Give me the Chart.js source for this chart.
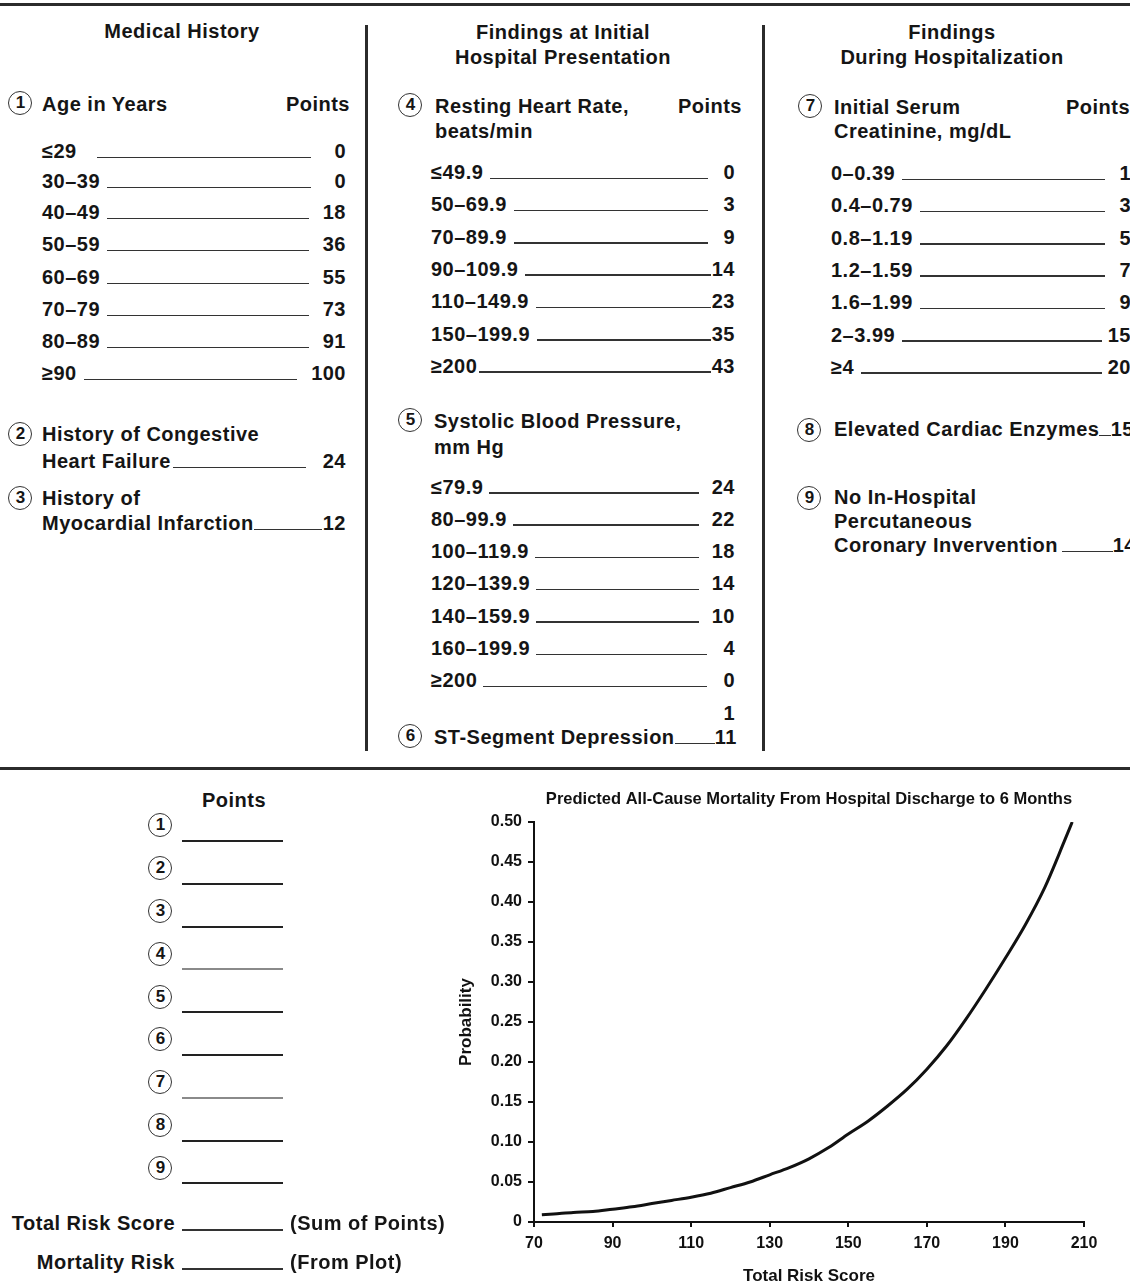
<!DOCTYPE html>
<html>
<head>
<meta charset="utf-8">
<title>Risk score nomogram</title>
<script src="https://cdn.jsdelivr.net/npm/chart.js@4.4.1/dist/chart.umd.min.js"></script>
<style>
html, body { margin: 0; padding: 0; background: #fff; }
body {
    width: 1130px; height: 1287px; position: relative; overflow: hidden;
    font-family: "Liberation Sans", Arial, Helvetica, sans-serif;
    font-weight: bold; font-size: 20px; letter-spacing: .5px; color: #151515;
}
.abs { position: absolute; white-space: nowrap; line-height: 24px; height: 24px; }
.rule { position: absolute; background: #2b2b2b; }
.circ {
    position: absolute; width: 22px; height: 22px; border: 1.6px solid #333;
    border-radius: 50%; font-size: 17px; line-height: 22px; text-align: center; letter-spacing: 0;
}
.row { position: absolute; display: flex; align-items: flex-end; height: 24px; line-height: 24px; white-space: nowrap; }
.row .ld { flex: 1; height: 1.5px; background: #333; margin-bottom: 5px; }
.row .v { text-align: right; }
#chartBox { position: absolute; left: 440px; top: 780px; width: 690px; height: 507px; letter-spacing: 0; }
</style>
</head>
<body>
<div id="chartBox"><canvas id="mortalityChart"></canvas></div>

<script>
// Mortality curve
const scoreValues   = [72, 75, 80, 85, 90, 95, 100, 105, 110, 115, 120, 125, 130, 135, 140, 145, 150, 155, 160, 165, 170, 175, 180, 185, 190, 195, 200, 205, 207];
const mortalityProb = [0.009, 0.010, 0.012, 0.013, 0.016, 0.019, 0.023, 0.027, 0.031, 0.036, 0.043, 0.050, 0.059, 0.068, 0.079, 0.093, 0.110, 0.126, 0.145, 0.166, 0.191, 0.220, 0.254, 0.291, 0.330, 0.371, 0.418, 0.476, 0.500];

// Point tables
const ageLabels   = ['≤29', '30–39', '40–49', '50–59', '60–69', '70–79', '80–89', '≥90'];
const agePoints   = ['0', '0', '18', '36', '55', '73', '91', '100'];
const hrLabels    = ['≤49.9', '50–69.9', '70–89.9', '90–109.9', '110–149.9', '150–199.9', '≥200'];
const hrPoints    = ['0', '3', '9', '14', '23', '35', '43'];
const sbpLabels   = ['≤79.9', '80–99.9', '100–119.9', '120–139.9', '140–159.9', '160–199.9', '≥200'];
const sbpPoints   = ['24', '22', '18', '14', '10', '4', '0'];
const creatLabels = ['0–0.39', '0.4–0.79', '0.8–1.19', '1.2–1.59', '1.6–1.99', '2–3.99', '≥4'];
const creatPoints = ['1', '3', '5', '7', '9', '15', '20'];

const W = 1130;

function txt(x, cy, s, align) {
    const d = document.createElement('div');
    d.className = 'abs';
    d.textContent = s;
    d.style.top = (cy - 12) + 'px';
    if (align === 'center') { d.style.left = x + 'px'; d.style.transform = 'translateX(-50%)'; }
    else if (align === 'right') { d.style.right = (W - x) + 'px'; }
    else { d.style.left = x + 'px'; }
    document.body.appendChild(d);
}

function circ(cx, cy, n) {
    const d = document.createElement('div');
    d.className = 'circ';
    d.textContent = n;
    d.style.left = (cx - 12.6) + 'px';
    d.style.top = (cy - 12.6) + 'px';
    document.body.appendChild(d);
}

function rule(x, y, w, h, color) {
    const d = document.createElement('div');
    d.className = 'rule';
    d.style.left = x + 'px'; d.style.top = y + 'px';
    d.style.width = w + 'px'; d.style.height = h + 'px';
    if (color) d.style.background = color;
    document.body.appendChild(d);
}

// label ____ value row; gl / gr = gaps before / after the leader line
function row(x1, x2, cy, label, value, gl, gr) {
    const r = document.createElement('div');
    r.className = 'row';
    r.style.left = x1 + 'px';
    r.style.width = (x2 - x1) + 'px';
    r.style.top = (cy - 12) + 'px';
    const a = document.createElement('span'); a.textContent = label;
    const l = document.createElement('span'); l.className = 'ld';
    l.style.marginLeft = gl + 'px'; l.style.marginRight = gr + 'px';
    const v = document.createElement('span'); v.className = 'v'; v.textContent = value;
    r.append(a, l, v);
    document.body.appendChild(r);
}

// frame lines
rule(0, 3, W, 3);
rule(0, 767, W, 3);
rule(365, 25, 2.5, 726);
rule(762, 25, 2.5, 726);

// column 1 - medical history
txt(182, 31, 'Medical History', 'center');
circ(21, 104, '1');
txt(42, 104, 'Age in Years');
txt(350, 104, 'Points', 'right');
const ageY = [151, 181, 212, 244, 277, 309, 341, 373];
ageLabels.forEach((lab, i) => {
    row(42, 346, ageY[i], lab, agePoints[i], i === 0 ? 20 : 7, agePoints[i].length === 1 ? 23 : 14);
});
circ(21, 435, '2');
txt(42, 434, 'History of Congestive');
row(42, 346, 461, 'Heart Failure', '24', 2, 17);
circ(21, 499, '3');
txt(42, 498, 'History of');
row(42, 346, 523, 'Myocardial Infarction', '12', 0, 1);

// column 2 - findings at presentation
txt(563, 32, 'Findings at Initial', 'center');
txt(563, 57, 'Hospital Presentation', 'center');
circ(411, 106, '4');
txt(435, 106, 'Resting Heart Rate,');
txt(435, 131, 'beats/min');
txt(742, 106, 'Points', 'right');
hrLabels.forEach((lab, i) => {
    row(431, 735, 172 + 32.3 * i, lab, hrPoints[i], i === 6 ? 2 : 7, hrPoints[i].length === 1 ? 15 : 1);
});
circ(411, 421, '5');
txt(434, 421, 'Systolic Blood Pressure,');
txt(434, 447, 'mm Hg');
sbpLabels.forEach((lab, i) => {
    row(431, 735, 486.5 + 32.3 * i, lab, sbpPoints[i], 6, sbpPoints[i].length === 1 ? 16 : 13);
});
txt(735, 713, '1', 'right');
circ(411, 737, '6');
row(434, 737, 737, 'ST-Segment Depression', '11', 0, 0);

// column 3 - findings during hospitalization
txt(952, 32, 'Findings', 'center');
txt(952, 57, 'During Hospitalization', 'center');
circ(811, 107, '7');
txt(834, 107, 'Initial Serum');
txt(834, 131, 'Creatinine, mg/dL');
txt(1066, 107, 'Points');
creatLabels.forEach((lab, i) => {
    row(831, 1131, 173 + 32.3 * i, lab, creatPoints[i], 7, creatPoints[i].length === 1 ? 14 : 6);
});
circ(810, 431, '8');
row(834, 1134, 429, 'Elevated Cardiac Enzymes', '15', 0, 0);
circ(810, 499, '9');
txt(834, 497, 'No In-Hospital');
txt(834, 521, 'Percutaneous');
row(834, 1136, 545, 'Coronary Invervention', '14', 4, 0);

// bottom left - worksheet
txt(234, 800, 'Points', 'center');
const blankGray = [false, false, false, true, false, false, true, false, false];
for (let i = 0; i < 9; i++) {
    const cy = 826 + 42.8 * i;
    circ(161, cy, String(i + 1));
    rule(182, cy + 14, 101, 2, blankGray[i] ? '#8a8a8a' : '#222');
}
txt(175, 1223, 'Total Risk Score', 'right');
rule(182, 1229, 101, 1.5, '#333');
txt(290, 1223, '(Sum of Points)');
txt(175, 1262, 'Mortality Risk', 'right');
rule(182, 1268, 101, 1.5, '#333');
txt(290, 1262, '(From Plot)');

// chart
Chart.defaults.font.family = '"Liberation Sans", Arial, Helvetica, sans-serif';
Chart.defaults.color = '#111';

const ctx = document.getElementById('mortalityChart').getContext('2d');
new Chart(ctx, {
    type: 'line',
    data: {
        datasets: [{
            data: scoreValues.map((s, i) => ({ x: s, y: mortalityProb[i] })),
            borderColor: '#111',
            borderWidth: 3,
            pointRadius: 0,
            fill: false,
            cubicInterpolationMode: 'monotone'
        }]
    },
    options: {
        responsive: true,
        maintainAspectRatio: false,
        animation: false,
        layout: { padding: { left: 0, right: 46, top: 0, bottom: 0 } },
        plugins: {
            legend: { display: false },
            tooltip: { enabled: false },
            title: {
                display: true,
                fullSize: false,
                text: 'Predicted All-Cause Mortality From Hospital Discharge to 6 Months',
                color: '#111',
                font: { size: 16.5, weight: 'bold' },
                padding: { top: 9.1, bottom: 13.1 }
            }
        },
        scales: {
            x: {
                type: 'linear',
                min: 70,
                max: 210,
                afterFit: s => { s.height = 65; },
                border: { display: true, color: '#111', width: 2 },
                grid: { drawOnChartArea: false, drawTicks: true, tickLength: 5, color: '#111', lineWidth: 2 },
                ticks: { stepSize: 20, padding: 7, font: { size: 16, weight: 'bold' }, color: '#111' },
                title: { display: true, text: 'Total Risk Score', font: { size: 17, weight: 'bold' }, padding: { top: 0, bottom: 0 } }
            },
            y: {
                min: 0,
                max: 0.5,
                afterFit: s => { s.width = 94; },
                border: { display: true, color: '#111', width: 2 },
                grid: { drawOnChartArea: false, drawTicks: true, tickLength: 6, color: '#111', lineWidth: 2 },
                ticks: {
                    stepSize: 0.05,
                    padding: 6,
                    font: { size: 16, weight: 'bold' },
                    color: '#111',
                    callback: v => (v === 0 ? '0' : v.toFixed(2))
                },
                title: { display: true, text: 'Probability', font: { size: 17, weight: 'bold' }, padding: { top: 16, bottom: 0 } }
            }
        }
    }
});
</script>
</body>
</html>
